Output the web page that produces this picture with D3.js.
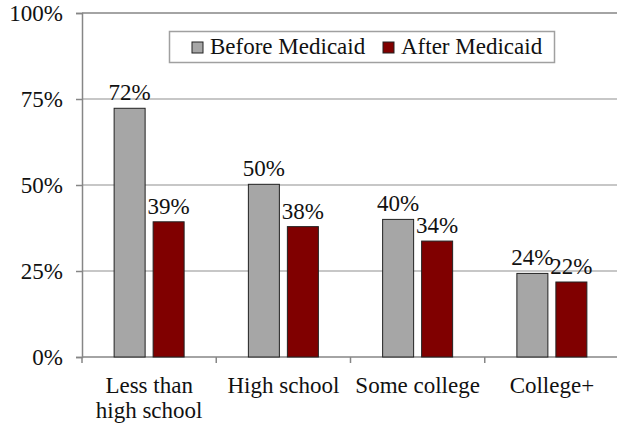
<!DOCTYPE html>
<html><head><meta charset="utf-8">
<script src="https://cdn.jsdelivr.net/npm/d3@7/dist/d3.min.js"></script>
<style>body{margin:0;background:#fff}svg{display:block}text{font-family:"Liberation Serif","Times New Roman",serif;fill:#111}</style>
</head><body><svg id="c" width="617" height="427"></svg>
<script>
const categories = [["Less than","high school"],["High school"],["Some college"],["College+"]];
const seriesNames = ["Before Medicaid","After Medicaid"];
const before = [72.3, 50.2, 40.0, 24.3];
const after = [39.3, 37.9, 33.7, 21.8];
const yTicks = [0,25,50,75,100];
const colors = ["#a6a6a6","#800000"];

const svg = d3.select("#c");
const L=82, R=619, T=13, B=357;
const fs = 23;
const x = d3.scaleBand().domain(d3.range(categories.length)).range([L,R]);
const y = d3.scaleLinear().domain([0,100]).range([B,T]);

// gridlines
svg.append("g").selectAll("line").data(yTicks.filter(d=>d>0)).join("line")
  .attr("x1",L).attr("x2",617).attr("y1",d=>y(d)).attr("y2",d=>y(d))
  .attr("stroke",d=>d===100?"#868686":"#b4b4b4").attr("stroke-width",1.5);

// y axis
const ya = svg.append("g").attr("transform",`translate(${L},0)`)
  .call(d3.axisLeft(y).tickValues(yTicks).tickFormat(d=>d+"%").tickSize(6).tickPadding(13));
ya.select(".domain").attr("stroke","#868686").attr("stroke-width",1.5);
ya.selectAll(".tick line").attr("stroke","#868686").attr("stroke-width",1.5);
ya.selectAll("text").style("font-size",fs+"px").attr("fill","#111");

// x axis
const xa = svg.append("g").attr("transform",`translate(0,${B})`);
xa.append("line").attr("x1",L).attr("x2",617).attr("stroke","#868686").attr("stroke-width",1.5);
xa.selectAll("line.t").data(d3.range(categories.length+1)).join("line").attr("class","t")
  .attr("x1",i=>L+i*x.step()).attr("x2",i=>L+i*x.step()).attr("y1",0).attr("y2",6)
  .attr("stroke","#868686").attr("stroke-width",1.5);
xa.selectAll("text").data(categories).join("text")
  .attr("text-anchor","middle").style("font-size",fs+"px")
  .attr("transform",(d,i)=>`translate(${x(i)+x.bandwidth()/2},0)`)
  .selectAll("tspan").data(d=>d).join("tspan")
  .attr("x",0).attr("y",(d,j)=>36+j*25).text(d=>d);

// bars
const bw = 31, gap = 8;
const data = [before, after];
data.forEach((vals,s)=>{
  const g = svg.append("g");
  g.selectAll("rect").data(vals).join("rect")
    .attr("x",(d,i)=>x(i)+x.bandwidth()/2 + (s===0 ? -gap/2-bw : gap/2))
    .attr("y",d=>y(d)).attr("width",bw).attr("height",d=>B-y(d))
    .attr("fill",colors[s]).attr("stroke","#222").attr("stroke-width",1);
  g.selectAll("text").data(vals).join("text")
    .attr("x",(d,i)=>x(i)+x.bandwidth()/2 + (s===0 ? -gap/2-bw/2 : gap/2+bw/2))
    .attr("y",d=>y(d)-8).attr("text-anchor","middle").style("font-size",fs+"px")
    .text(d=>Math.round(d)+"%");
});

// legend
const lg = svg.append("g");
lg.append("rect").attr("x",169.5).attr("y",31.5).attr("width",385).attr("height",31)
  .attr("fill","#fff").attr("stroke","#a0a0a0").attr("stroke-width",1.5);
const lx = [192, 383];
seriesNames.forEach((n,i)=>{
  lg.append("rect").attr("x",lx[i]).attr("y",42).attr("width",11).attr("height",11)
    .attr("fill",colors[i]).attr("stroke","#222").attr("stroke-width",1);
  lg.append("text").attr("x",lx[i]+18).attr("y",53.5).style("font-size",fs+"px").text(n);
});
</script></body></html>
